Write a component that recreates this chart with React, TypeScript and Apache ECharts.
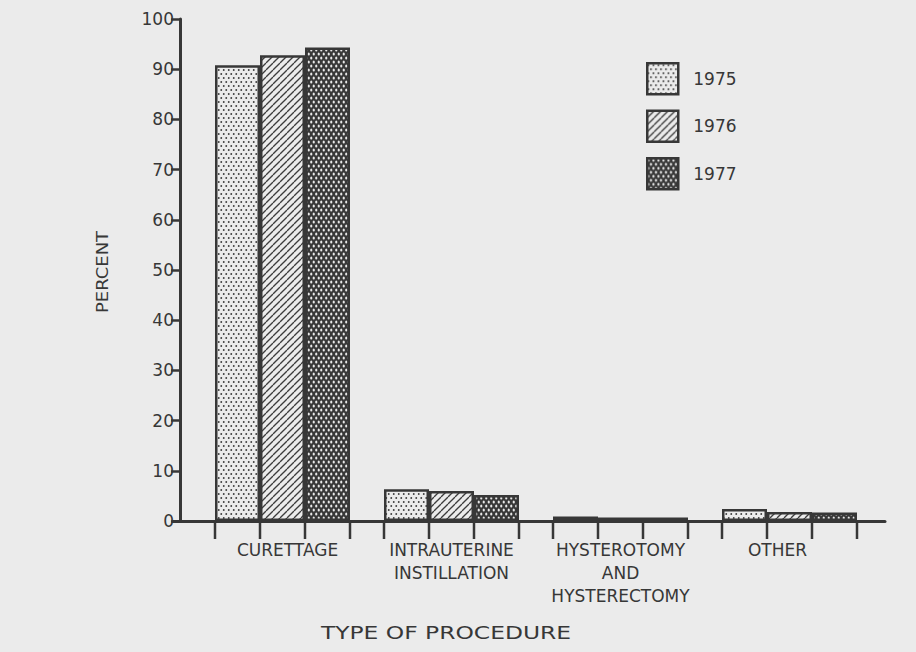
import React, { useEffect, useRef } from "react";
import * as echarts from "echarts";

const categories = ["CURETTAGE", "INTRAUTERINE\nINSTILLATION", "HYSTEROTOMY\nAND\nHYSTERECTOMY", "OTHER"];
const years = ["1975", "1976", "1977"];
const values1975 = [90.8, 6.3, 0.9, 2.4];
const values1976 = [92.8, 6.0, 0.7, 1.8];
const values1977 = [94.3, 5.2, 0.7, 1.7];
const yTickValues = [0, 10, 20, 30, 40, 50, 60, 70, 80, 90, 100];
const yAxisTitle = "PERCENT";
const xAxisTitle = "TYPE OF PROCEDURE";

const INK = "#373737";
const PAPER = "#ebebeb";
const FONT = "DejaVu Sans";
const BAR_W = 45;

function makeCanvas(w: number, h: number, draw: (ctx: CanvasRenderingContext2D) => void) {
  const c = document.createElement("canvas");
  c.width = w;
  c.height = h;
  const ctx = c.getContext("2d")!;
  draw(ctx);
  return c;
}

function dotsPattern() {
  const w = 5, h = 8;
  const c = makeCanvas(w, h, (ctx) => {
    ctx.fillStyle = PAPER;
    ctx.fillRect(0, 0, w, h);
    ctx.fillStyle = "#3c3c3c";
    for (const [x, y] of [[1.25, 2], [3.75, 6]]) {
      ctx.beginPath();
      ctx.arc(x, y, 0.95, 0, Math.PI * 2);
      ctx.fill();
    }
  });
  return { image: c, repeat: "repeat", imageWidth: w, imageHeight: h };
}

function hatchPattern() {
  const s = 7;
  const c = makeCanvas(s, s, (ctx) => {
    ctx.fillStyle = PAPER;
    ctx.fillRect(0, 0, s, s);
    ctx.strokeStyle = "#3c3c3c";
    ctx.lineWidth = 1.3;
    for (const o of [-s, 0, s]) {
      ctx.beginPath();
      ctx.moveTo(o, s);
      ctx.lineTo(o + s, 0);
      ctx.stroke();
    }
  });
  return { image: c, repeat: "repeat", imageWidth: s, imageHeight: s };
}

function meshPattern() {
  const w = 5, h = 8;
  const c = makeCanvas(w, h, (ctx) => {
    ctx.fillStyle = "#383838";
    ctx.fillRect(0, 0, w, h);
    ctx.fillStyle = "#e8e8e8";
    for (const [x, y] of [[1.25, 2], [3.75, 6]]) {
      ctx.beginPath();
      ctx.ellipse(x, y, 1.1, 1.5, 0, 0, Math.PI * 2);
      ctx.fill();
    }
  });
  return { image: c, repeat: "repeat", imageWidth: w, imageHeight: h };
}

export default function App() {
  const ref = useRef<HTMLDivElement>(null);

  useEffect(() => {
    document.body.style.margin = "0";
    document.body.style.background = PAPER;
    const chart = echarts.init(ref.current!, null, { renderer: "svg" });
    const patterns = [dotsPattern(), hatchPattern(), meshPattern()];
    const seriesValues = [values1975, values1976, values1977];

    const labelShift: Record<string, number[]> = {
      CURETTAGE: [0, 0, 0, 10],
      OTHER: [0, 24, 0, 0],
    };

    const option: any = {
      animation: false,
      backgroundColor: PAPER,
      textStyle: { fontFamily: FONT, color: INK },
      grid: [
        { left: 198, top: 19, width: 676, height: 502 },
        { left: 173, top: 19, width: 712, height: 502 },
      ],
      legend: {
        orient: "vertical",
        left: 641,
        top: 57,
        itemWidth: 31,
        itemHeight: 31,
        itemGap: 14,
        icon: "rect",
        data: years,
        itemStyle: { borderColor: INK, borderWidth: 2.5 },
        textStyle: { fontSize: 17, color: INK, fontFamily: FONT, padding: [0, 0, 0, 10] },
        selectedMode: false,
      },
      xAxis: [
        {
          type: "category",
          gridIndex: 0,
          data: categories.map((c) =>
            labelShift[c] ? { value: c, textStyle: { padding: labelShift[c] } } : c
          ),
          axisLine: { show: false },
          axisTick: { show: false },
          axisLabel: {
            interval: 0,
            fontSize: 17,
            lineHeight: 23,
            margin: 17,
            color: INK,
            fontFamily: FONT,
          },
        },
        {
          type: "value",
          gridIndex: 1,
          min: 0,
          max: 1,
          axisLine: { show: true, lineStyle: { color: INK, width: 3 } },
          axisTick: { show: false },
          axisLabel: { show: false },
          splitLine: { show: false },
        },
      ],
      yAxis: [
        {
          type: "value",
          gridIndex: 0,
          min: yTickValues[0],
          max: yTickValues[yTickValues.length - 1],
          interval: 10,
          offset: 18,
          axisLine: { show: true, lineStyle: { color: INK, width: 3 } },
          axisTick: { show: true, length: 9, lineStyle: { color: INK, width: 2.5 } },
          axisLabel: { fontSize: 17, margin: 6, color: INK, fontFamily: FONT },
          splitLine: { show: false },
        },
        { type: "value", gridIndex: 1, min: 0, max: 100, show: false },
      ],
      series: [
        ...years.map((y, i) => ({
          name: y,
          type: "bar",
          xAxisIndex: 0,
          yAxisIndex: 0,
          data: seriesValues[i],
          barWidth: BAR_W,
          barGap: "0%",
          silent: true,
          itemStyle: { color: patterns[i], borderColor: INK, borderWidth: 2.5 },
        })),
        {
          type: "custom",
          xAxisIndex: 0,
          yAxisIndex: 0,
          silent: true,
          clip: false,
          data: categories.map((_, i) => [i, 0]),
          renderItem: (_params: any, api: any) => {
            const p = api.coord([api.value(0), 0]);
            return {
              type: "group",
              children: [-1.5, -0.5, 0.5, 1.5].map((k) => ({
                type: "line",
                shape: { x1: p[0] + k * BAR_W, y1: p[1], x2: p[0] + k * BAR_W, y2: p[1] + 18 },
                style: { stroke: INK, lineWidth: 2.5 },
              })),
            };
          },
        },
      ],
      graphic: [
        {
          type: "text",
          x: 103,
          y: 272,
          rotation: Math.PI / 2,
          scaleX: 1.2,
          style: {
            text: yAxisTitle,
            font: `15px "${FONT}"`,
            fill: INK,
            textAlign: "center",
            textVerticalAlign: "middle",
          },
        },
        {
          type: "text",
          x: 446,
          y: 633,
          scaleX: 1.3,
          style: {
            text: xAxisTitle,
            font: `18px "${FONT}"`,
            fill: INK,
            textAlign: "center",
            textVerticalAlign: "middle",
          },
        },
      ],
    };
    chart.setOption(option);
    return () => chart.dispose();
  }, []);

  return <div ref={ref} style={{ width: 916, height: 652, background: PAPER }} />;
}
